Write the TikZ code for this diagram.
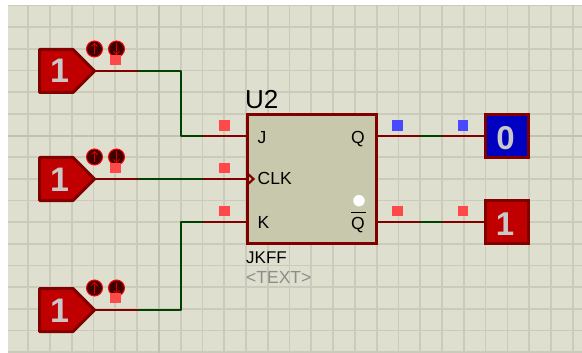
\documentclass[tikz,border=0pt]{standalone}
\usepackage{fontspec}
\setmainfont{Liberation Sans}
\definecolor{sheet}{HTML}{DFDFCF}
\definecolor{gridc}{HTML}{CBCBBB}
\definecolor{gridm}{HTML}{C2C2B2}
\definecolor{body}{HTML}{C8C8AC}
\definecolor{maroon}{HTML}{800000}
\definecolor{wgreen}{HTML}{004000}
\definecolor{logicred}{HTML}{C00000}
\definecolor{logicblue}{HTML}{0000C0}
\definecolor{markred}{HTML}{FF4848}
\definecolor{markblue}{HTML}{4848FF}
\definecolor{txtgrey}{HTML}{C8C8C8}
\definecolor{btnfill}{HTML}{400000}
\tikzset{
  wirem/.style={draw=maroon,line width=2.2pt},
  wireg/.style={draw=wgreen,line width=2.2pt},
  gen/.style={draw=maroon,fill=logicred,line width=3pt,line join=round},
  mred/.style={fill=markred,minimum size=10.5pt,inner sep=0pt,draw=none,rectangle},
  mblue/.style={fill=markblue,minimum size=10.5pt,inner sep=0pt,draw=none,rectangle},
  probe/.style={draw=maroon,fill=logicred,line width=3.5pt,minimum width=43pt,minimum height=43pt,inner sep=0pt,rectangle},
  probelab/.style={font=\bfseries\fontsize{33}{33}\selectfont,text=txtgrey,inner sep=0pt,anchor=base},
  pin/.style={font=\fontsize{17.5}{17.5}\selectfont,text=black,inner sep=0pt},
  updn/.style={circle,draw=red,fill=btnfill,line width=1pt,minimum size=16pt,inner sep=0pt},
  genlab/.style={font=\bfseries\fontsize{34}{34}\selectfont,text=txtgrey,inner sep=0pt,anchor=base}
}
\begin{document}
\begin{tikzpicture}[x=1pt,y=-1pt]
\useasboundingbox (0,0) rectangle (582,353);
\fill[white] (0,0) rectangle (582,353);
\fill[sheet] (8,5) rectangle (582,352.5);
% grid
\foreach \i in {0,...,25}{\draw[gridc,line width=1.7pt] ({28.2+\i*21.78},5) -- ({28.2+\i*21.78},352.5);}
\foreach \j in {0,...,16}{\draw[gridc,line width=1.7pt] (8,{5.5+\j*21.66}) -- (582,{5.5+\j*21.66});}
\draw[gridm,line width=2.2pt] (159,5) -- (159,352.5);
\draw[gridm,line width=2.2pt] (8,136) -- (582,136);
% flip-flop
\node[draw=maroon,fill=body,line width=3pt,minimum width=129pt,minimum height=129pt,inner sep=0pt,rectangle] (ff) at (311.5,179) {};
\coordinate (ffj) at (246,136);
\coordinate (ffclk) at (246,179);
\coordinate (ffk) at (246,222);
\coordinate (ffq) at (377,136);
\coordinate (ffqn) at (377,222);
% generators
\node[inner sep=0pt,minimum size=0pt] (g1) at (94,71) {};
\node[inner sep=0pt,minimum size=0pt] (g2) at (94,179) {};
\node[inner sep=0pt,minimum size=0pt] (g3) at (94,310) {};
\foreach \n in {g1,g2,g3}{
  \draw[gen] (\n.center) ++(-54.5,-21.5) -- ++(33.5,0) -- ++(21.5,21.5) -- ++(-21.5,21.5) -- ++(-33.5,0) -- cycle;
  \node[genlab] at ([xshift=-34.5pt,yshift=-12pt]\n.center) {1};
}
% wires
\coordinate (c1a) at (138,71);\coordinate (c1b) at (181,71);\coordinate (c1c) at (181,136);\coordinate (c1d) at (203,136);
\draw[wirem] (g1) -- (c1a);
\draw[wireg,line join=round] (c1a) -- (c1b) -- (c1c) -- (c1d);
\draw[wirem] (c1d) -- (ffj);
\coordinate (c2a) at (138,179);\coordinate (c2b) at (203,179);
\draw[wirem] (g2) -- (c2a);
\draw[wireg] (c2a) -- (c2b);
\draw[wirem] (c2b) -- (ffclk);
\coordinate (c3a) at (138,310);\coordinate (c3b) at (181,310);\coordinate (c3c) at (181,222);\coordinate (c3d) at (203,222);
\draw[wirem] (g3) -- (c3a);
\draw[wireg,line join=round] (c3a) -- (c3b) -- (c3c) -- (c3d);
\draw[wirem] (c3d) -- (ffk);
% clock wedge
\coordinate (w1) at (247,173);\coordinate (w2) at (253.5,179);\coordinate (w3) at (247,185);
\draw[draw=maroon,line width=2.2pt] (w1) -- (w2) -- (w3);
% probes
\node[probe,fill=logicblue] (p0) at (507,136) {};
\node[probe] (p1) at (507,222) {};
\node[probelab] at (505.5,149.5) {0};
\node[probelab] at (505,235.5) {1};
\coordinate (q1) at (420,136);\coordinate (q2) at (442,136);
\coordinate (r1) at (420,222);\coordinate (r2) at (442,222);
\draw[wirem] (ffq) -- (q1);
\draw[wireg] (q1) -- (q2);
\draw[wirem] (q2) -- (p0.west);
\draw[wirem] (ffqn) -- (r1);
\draw[wireg] (r1) -- (r2);
\draw[wirem] (r2) -- (p1.west);
% up/down buttons
\foreach \x/\y/\nm in {94.5/49/a,116.5/49/b,94.5/157/c,116.5/157/d,94.5/288/e,116.5/288/f}{
  \node[updn] (btn\nm) at (\x,\y) {};
}
\foreach \nm in {a,c,e}{
  \draw[red!85!black,line width=.9pt] ([yshift=-5.5pt]btn\nm.center) -- ([yshift=5.5pt]btn\nm.center);
  \draw[red!85!black,line width=.9pt] ([xshift=-3pt,yshift=2.5pt]btn\nm.center) -- ([yshift=5.5pt]btn\nm.center) -- ([xshift=3pt,yshift=2.5pt]btn\nm.center);
}
\foreach \nm in {b,d,f}{
  \draw[red!85!black,line width=.9pt] ([yshift=5.5pt]btn\nm.center) -- ([yshift=-5.5pt]btn\nm.center);
  \draw[red!85!black,line width=.9pt] ([xshift=-3pt,yshift=-2.5pt]btn\nm.center) -- ([yshift=-5.5pt]btn\nm.center) -- ([xshift=3pt,yshift=-2.5pt]btn\nm.center);
}
% markers
\node[mred] (m1) at (115.5,60) {};
\node[mred] (m2) at (115.5,168) {};
\node[mred] (m3) at (115.5,298) {};
\node[mred] (m4) at (224.5,125.5) {};
\node[mred] (m5) at (224.5,168) {};
\node[mred] (m6) at (224.5,211) {};
\node[mblue] (m7) at (397.5,125.5) {};
\node[mblue] (m8) at (463,125.5) {};
\node[mred] (m9) at (397.5,211) {};
\node[mred] (m10) at (463,211) {};
% white dot
\node[circle,fill=white,minimum size=11.5pt,inner sep=0pt] (dot) at (359,200.7) {};
% labels
\node[pin,anchor=base west] (lj) at (257.5,143) {J};
\node[pin,anchor=base west] (lclk) at (257.5,185) {CLK};
\node[pin,anchor=base west] (lk) at (257.5,229) {K};
\node[pin,anchor=base] (lq) at (358,143) {Q};
\node[pin,anchor=base] (lqn) at (358,229.5) {Q};
\coordinate (b1) at (351,212);\coordinate (b2) at (366,212);
\draw[black,line width=.9pt] (b1) -- (b2);
\node[anchor=base west,inner sep=0pt,font=\fontsize{26}{26}\selectfont] (u2) at (245,109) {U2};
\node[anchor=base west,inner sep=0pt,font=\fontsize{17}{17}\selectfont] (jk) at (246,263) {JKFF};
\node[anchor=base west,inner sep=0pt,font=\fontsize{17.5}{17.5}\selectfont,text=black!45] (tx) at (246,283.5) {<TEXT>};
\end{tikzpicture}
\end{document}
